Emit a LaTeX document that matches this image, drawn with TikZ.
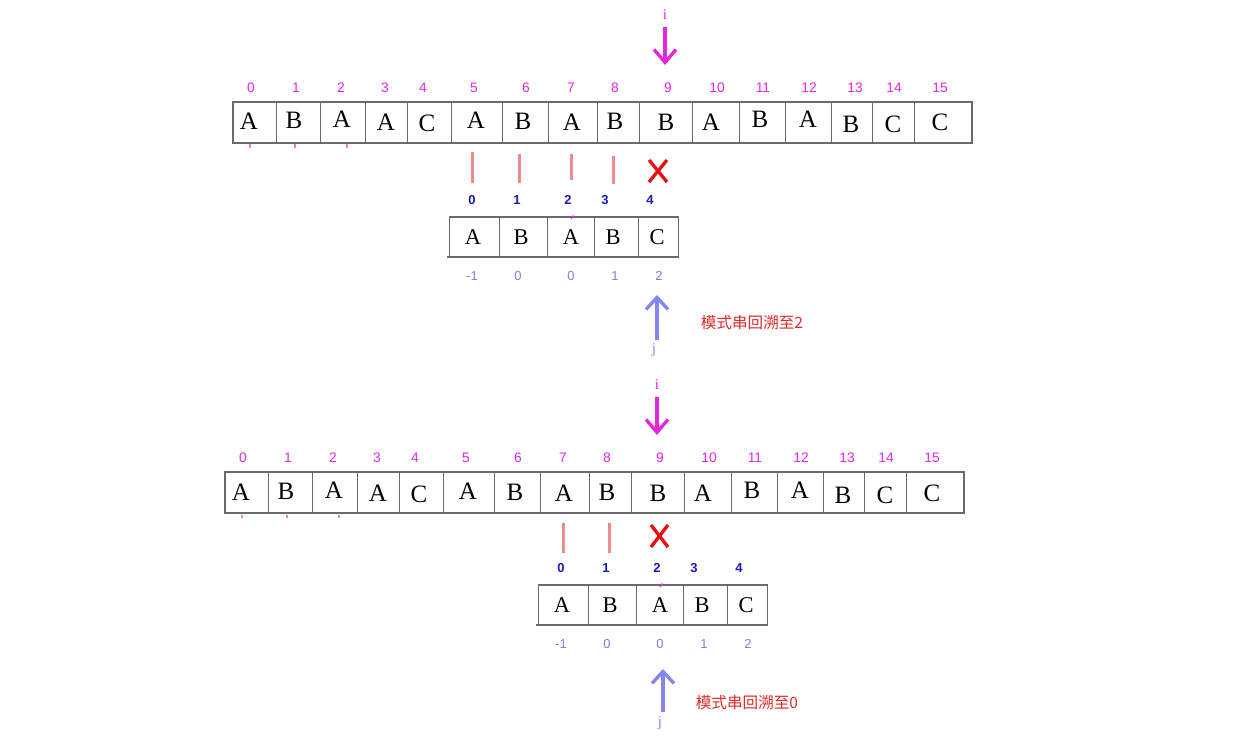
\documentclass[tikz,border=0pt]{standalone}
\usepackage{fontspec}
\setmainfont{Liberation Serif}
\setsansfont{Liberation Sans}
\newfontfamily\cjkfont{Noto Sans CJK SC}
\usetikzlibrary{arrows.meta}

\definecolor{idxmag}{HTML}{E426E4}
\definecolor{ptnblue}{HTML}{1A1AB4}
\definecolor{nextblue}{HTML}{7F7FDF}
\definecolor{jarrow}{HTML}{8585F2}
\definecolor{matchpink}{HTML}{F08A8A}
\definecolor{missred}{HTML}{E81010}
\definecolor{cellgrey}{HTML}{6A6A6A}
\definecolor{notered}{HTML}{E02828}

\tikzset{
  cellframe/.style={draw=cellgrey, line width=2pt},
  celldiv/.style={draw=cellgrey, line width=1pt},
  bigchar/.style={font=\fontsize{25}{25}\selectfont, anchor=base, inner sep=0pt},
  patchar/.style={font=\fontsize{22.5}{22.5}\selectfont, anchor=base, inner sep=0pt},
  textidx/.style={font=\sffamily\fontsize{13.8}{13.8}\selectfont, text=idxmag, inner sep=0pt},
  patidx/.style={font=\sffamily\bfseries\fontsize{13}{13}\selectfont, text=ptnblue, inner sep=0pt},
  nextval/.style={font=\sffamily\fontsize{13}{13}\selectfont, text=nextblue, inner sep=0pt},
  ptr/.style={font=\fontsize{15}{15}\selectfont, inner sep=0pt},
  downarrow/.style={draw=idxmag, line width=3.3pt, -{Straight Barb[length=13pt,width=22pt]}},
  uparrow/.style={draw=jarrow, line width=3.3pt, -{Straight Barb[length=12pt,width=22pt]}},
  matchbar/.style={draw=matchpink, line width=3pt},
  missmark/.style={draw=missred, line width=3.3pt},
  note/.style={font=\cjkfont\fontsize{15.6}{15.6}\selectfont, text=notered, inner sep=0pt},
}

% main text string with its indices and the i pointer; #1 = name prefix
\newcommand\drawtextrow[1]{%
  \draw[cellframe] (232.7,102) rectangle (972,143);
  \foreach \dx in {276.7,320.7,365,407,451,502,548,597,639,692,739,785,831,872,914}
    \draw[celldiv] (\dx,102) -- (\dx,143);
  \foreach \x/\c/\b [count=\k from 0] in
    {249/A/130,294/B/129,342/A/128,386/A/131,427/C/132,476/A/129,523/B/130,
     572/A/131,615/B/130,666/B/131,711/A/131,760/B/128,808/A/128,851/B/133,
     893/C/133,940/C/131}
    \node[bigchar] (#1c\k) at (\x,\b) {\c};
  \foreach \x/\n in {251/0,296/1,341/2,385/3,423/4,474/5,526/6,571/7,615/8,
     668/9,717/10,763/11,809/12,855/13,894/14,940/15}
    \node[textidx] (#1n\n) at (\x,88) {\n};
  \node[ptr, text=idxmag] (#1i) at (665,15) {i};
  \coordinate (#1itail) at (665,27);
  \coordinate (#1itip) at (665,65);
  \draw[downarrow] (#1itail) -- (#1itip);
  % faint marks below the first cells
  \foreach \x in {250,295,347}
    \draw[draw=matchpink, line width=2pt] (\x,144.5) -- (\x,148);
}

% pattern string with its indices and next values; #1 = name prefix
\newcommand\drawpattern[1]{%
  \draw[cellframe] (449,217) -- (679,217);
  \draw[cellframe] (447,257) -- (679,257);
  \foreach \dx in {449,499,547,594,638,678}
    \draw[celldiv] (\dx,217) -- (\dx,257);
  \foreach \x/\c [count=\k from 0] in {473/A,521/B,571/A,613/B,657/C}
    \node[patchar] (#1p\k) at (\x,244) {\c};
  \foreach \x/\n in {472/0,517/1,568/2,605/3,650/4}
    \node[patidx] (#1q\n) at (\x,200) {\n};
  \foreach \x/\v [count=\k from 0] in {472/-1,518/0,571/0,615/1,659/2}
    \node[nextval] (#1v\k) at (\x,276) {\v};
  \draw[draw=idxmag, line width=1.2pt] (571,219) -- (573.5,215.5);
}

\begin{document}
\begin{tikzpicture}[x=1pt,y=-1pt]
  \useasboundingbox[fill=white] (0,0) rectangle (1248,738);

  % ---------- first step ----------
  \drawtextrow{a}
  \drawpattern{a}
  \draw[matchbar] (472.5,152) -- (472.5,183);
  \draw[matchbar] (519,154) -- (519,183);
  \draw[matchbar] (571,154) -- (571,180);
  \draw[matchbar] (613,156) -- (613,184);
  \draw[missmark] (649,160) -- (667,182);
  \draw[missmark] (667,160) -- (649,182);
  \node[ptr, text=jarrow] (aj) at (654,350) {j};
  \coordinate (ajtail) at (657,340);
  \coordinate (ajtip) at (657,295);
  \draw[uparrow] (ajtail) -- (ajtip);
  \node[note] (anote) at (752,323) {模式串回溯至2};

  % ---------- second step ----------
  \begin{scope}[shift={(-8,370)}]
    \drawtextrow{b}
  \end{scope}
  \begin{scope}[shift={(89,368)}]
    \drawpattern{b}
  \end{scope}
  \draw[matchbar] (563,523) -- (563,553);
  \draw[matchbar] (609,523) -- (609,553);
  \draw[missmark] (651,525) -- (668,547);
  \draw[missmark] (668,525) -- (651,547);
  \node[ptr, text=jarrow] (bj) at (660,723) {j};
  \coordinate (bjtail) at (663,712);
  \coordinate (bjtip) at (663,669);
  \draw[uparrow] (bjtail) -- (bjtip);
  \node[note] (bnote) at (747,703) {模式串回溯至0};
\end{tikzpicture}
\end{document}
